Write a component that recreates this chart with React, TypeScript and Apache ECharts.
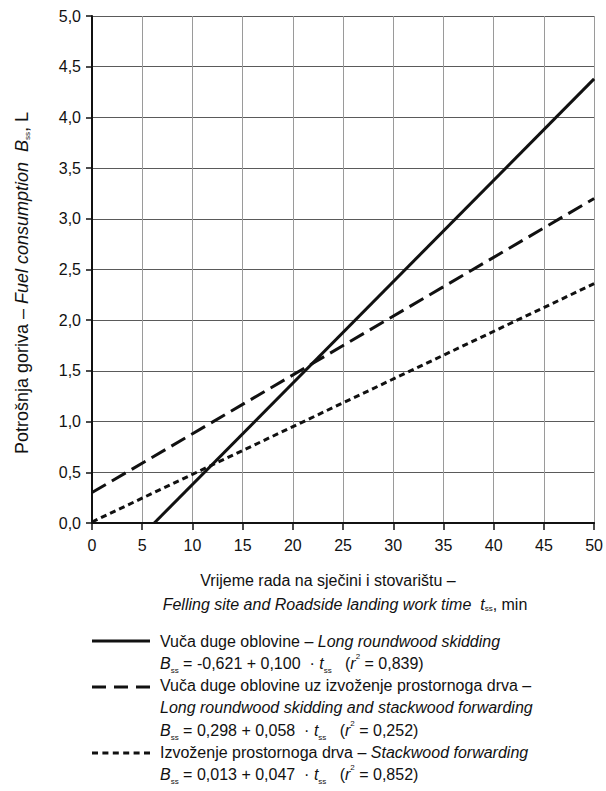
import React, { useEffect, useRef } from "react";
import * as echarts from "echarts";

// ---- data ----
const seriesNames = [
  "Long roundwood skidding",
  "Long roundwood skidding and stackwood forwarding",
  "Stackwood forwarding",
];
const skiddingX = [6.2, 50];
const skiddingY = [0, 4.38];
const combinedX = [0, 50];
const combinedY = [0.3, 3.2];
const stackX = [0, 50];
const stackY = [0.01, 2.36];

const xMin = 0, xMax = 50, xStep = 5;
const yMin = 0, yMax = 5, yStep = 0.5;

const legendLines = [
  "Vuča duge oblovine – {i|Long roundwood skidding}",
  "{i|B}{s|ss} = -0,621 + 0,100  · {i|t}{s|ss}   ({i|r}{p|2} = 0,839)",
  "Vuča duge oblovine uz izvoženje prostornoga drva –",
  "{i|Long roundwood skidding and stackwood forwarding}",
  "{i|B}{s|ss} = 0,298 + 0,058  · {i|t}{s|ss}   ({i|r}{p|2} = 0,252)",
  "Izvoženje prostornoga drva – {i|Stackwood forwarding}",
  "{i|B}{s|ss} = 0,013 + 0,047  · {i|t}{s|ss}   ({i|r}{p|2} = 0,852)",
];
const xTitle1 = "Vrijeme rada na sječini i stovarištu –";
const xTitle2 = "{i|Felling site and Roadside landing work time  t}{s|ss}, min";
const yTitle = "Potrošnja goriva – {i|Fuel consumption  B}{s|ss}, L";

const FONT = "'Liberation Sans', Arial, Helvetica, sans-serif";
const INK = "#111";

function makeRich(fs: number) {
  return {
    i: { fontStyle: "italic", fontSize: fs, fontFamily: FONT, fill: INK, color: INK },
    s: { fontSize: 8, fontFamily: FONT, verticalAlign: "bottom", lineHeight: 12, color: INK, fill: INK },
    p: { fontSize: 8, fontFamily: FONT, verticalAlign: "top", lineHeight: 22, color: INK, fill: INK },
  };
}

function pairs(xs: number[], ys: number[]) {
  return xs.map((x, k) => [x, ys[k]]);
}

export default function App() {
  const ref = useRef<HTMLDivElement>(null);
  useEffect(() => {
    if (!ref.current) return;
    const chart = echarts.init(ref.current, undefined, { renderer: "svg" });
    const lineTypes: any[] = ["solid", [16, 7], [6, 4]];
    const datas = [
      pairs(skiddingX, skiddingY),
      pairs(combinedX, combinedY),
      pairs(stackX, stackY),
    ];
    const legendY = [641, 687, 753];
    const legendDash: any[] = [null, [14, 8], [6, 4.4]];

    const txt = (text: string, x: number, y: number, align: string, fs: number) => ({
      type: "text",
      x,
      y,
      style: {
        text,
        rich: makeRich(fs),
        fontSize: fs,
        fontFamily: FONT,
        fill: INK,
        align,
        verticalAlign: "middle",
      },
    });

    const graphics: any[] = [];
    legendY.forEach((y, k) => {
      graphics.push({
        type: "line",
        shape: { x1: 92, y1: y, x2: 150, y2: y },
        style: { stroke: INK, lineWidth: 3, lineDash: legendDash[k] || undefined },
      });
    });
    legendLines.forEach((t, k) => {
      graphics.push(txt(t, 160, 641 + k * 22.3, "left", 16));
    });
    graphics.push(txt(xTitle1, 328, 580, "center", 16));
    graphics.push(txt(xTitle2, 345, 604, "center", 16));
    graphics.push({
      ...txt(yTitle, 0, 0, "center", 18),
      x: 22,
      y: 283,
      rotation: Math.PI / 2,
    });

    chart.setOption({
      animation: false,
      grid: { left: 92, right: 9, top: 16, bottom: 268, containLabel: false },
      xAxis: {
        type: "value",
        min: xMin,
        max: xMax,
        interval: xStep,
        axisLine: { show: true, onZero: false, lineStyle: { color: INK, width: 2 } },
        axisTick: { show: true, length: 7, lineStyle: { color: INK, width: 1.5 } },
        axisLabel: { fontSize: 16, fontFamily: FONT, color: INK, margin: 14 },
        splitLine: { show: true, lineStyle: { color: "#9a9a9a", width: 1 } },
      },
      yAxis: {
        type: "value",
        min: yMin,
        max: yMax,
        interval: yStep,
        axisLine: { show: true, onZero: false, lineStyle: { color: INK, width: 2 } },
        axisTick: { show: true, length: 6, lineStyle: { color: INK, width: 1.5 } },
        axisLabel: {
          fontSize: 16,
          fontFamily: FONT,
          color: INK,
          margin: 11,
          formatter: (v: number) => v.toFixed(1).replace(".", ","),
        },
        splitLine: { show: true, lineStyle: { color: "#5a5a5a", width: 1 } },
      },
      series: datas.map((d, k) => ({
        name: seriesNames[k],
        type: "line",
        data: d,
        symbol: "none",
        lineStyle: { color: INK, width: 3, type: lineTypes[k] },
        z: 5,
      })),
      graphic: graphics,
    });
    return () => chart.dispose();
  }, []);
  return (
    <div
      ref={ref}
      style={{ position: "fixed", left: 0, top: 0, width: 606, height: 791, background: "#fff" }}
    />
  );
}
